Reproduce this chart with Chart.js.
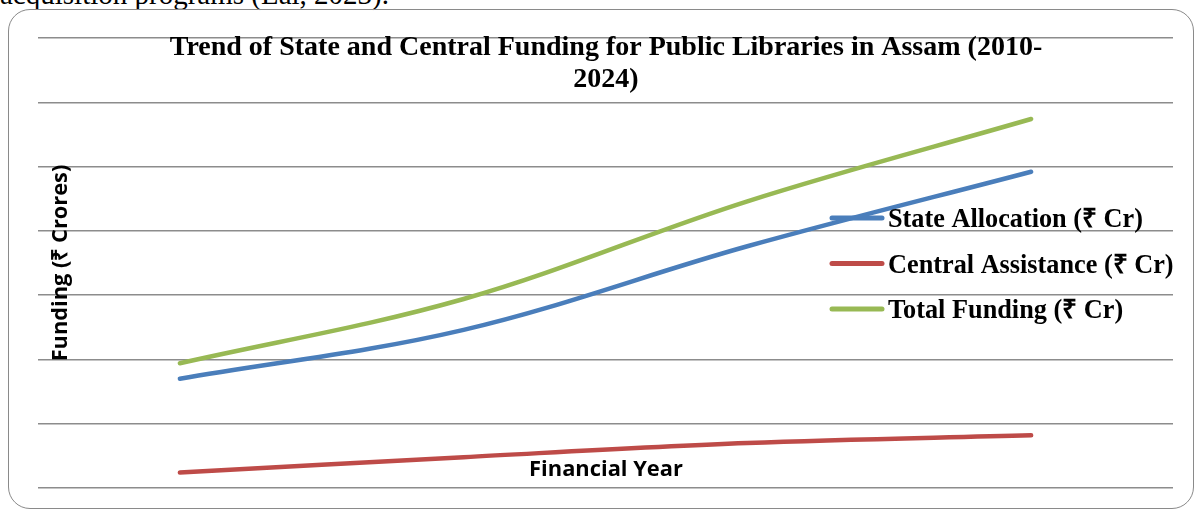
<!DOCTYPE html>
<html>
<head>
<meta charset="utf-8">
<script src="https://cdn.jsdelivr.net/npm/chart.js@4.4.1/dist/chart.umd.min.js"></script>
<style>
  body { margin: 0; background: #fff; overflow: hidden; }
  #wrap { position: relative; width: 1195px; height: 510px; overflow: hidden; }
  #above { position: absolute; left: 0; top: -22px; font: 29px "Liberation Serif", serif; color: #000; white-space: nowrap; }
  #frame { position: absolute; left: 8px; top: 9px; width: 1186px; height: 500px; border: 1.5px solid #8a8a8a; border-radius: 22px; box-sizing: border-box; }
  #chart { position: absolute; left: 0; top: 0; }
</style>
</head>
<body>
<div id="wrap">
  <div id="above">acquisition programs (Lal, 2023).</div>
  <div id="frame"></div>
  <canvas id="chart" width="1195" height="510"></canvas>
</div>
<script>
const years = ['2010', '2015', '2020', '2024']
const stateAllocation = [85, 123, 188, 246]
const centralAssistance = [12, 24, 35, 41]
const totalFunding = [97, 147, 223, 287]
const yTicks = [0, 50, 100, 150, 200, 250, 300, 350]

const chartTitle = ['Trend of State and Central Funding for Public Libraries in Assam (2010-', '2024)']
const yTitle = 'Funding (₹ Crores)'
const xTitle = 'Financial Year'

// text that sits inside the plot area, the way the original chart has it
const overlayText = {
    id: 'overlayText',
    afterDraw(chart) {
        const ctx = chart.ctx
        const fit = (text, weightFamily, size, width) => {
            ctx.font = weightFamily.replace('SIZE', size + 'px')
            const w = ctx.measureText(text).width
            const s = size * width / w
            ctx.font = weightFamily.replace('SIZE', s + 'px')
        }
        ctx.save()
        ctx.fillStyle = '#000'
        ctx.textAlign = 'center'
        ctx.textBaseline = 'alphabetic'

        fit(chartTitle[0], 'bold SIZE "Liberation Serif", serif', 26, 873)
        ctx.fillText(chartTitle[0], 606, 55)
        ctx.fillText(chartTitle[1], 606, 87)

        fit(xTitle, 'bold SIZE "Open Sans", sans-serif', 20, 154)
        ctx.fillText(xTitle, 606, 476)

        ctx.save()
        ctx.translate(67, 263)
        ctx.rotate(-Math.PI / 2)
        fit(yTitle, 'bold SIZE "Open Sans", sans-serif', 18, 197)
        ctx.fillText(yTitle, 0, 0)
        ctx.restore()

        // legend
        ctx.textAlign = 'left'
        ctx.lineCap = 'round'
        fit(chart.data.datasets[0].label, 'bold SIZE "Liberation Serif", serif', 23, 255)
        chart.data.datasets.forEach((ds, i) => {
            const y = 218 + i * 45.5
            ctx.strokeStyle = ds.borderColor
            ctx.lineWidth = 5
            ctx.beginPath()
            ctx.moveTo(832, y)
            ctx.lineTo(882, y)
            ctx.stroke()
            ctx.fillText(ds.label, 888, y + 9)
        })
        ctx.restore()
    }
}

const ctxChart = document.querySelector('#chart').getContext('2d')
const chart = new Chart(ctxChart, {
    type: 'line',
    data: {
        labels: years,
        datasets: [
            {
                label: 'State Allocation (₹ Cr)',
                data: stateAllocation,
                borderColor: '#4a7ebb'
            },
            {
                label: 'Central Assistance (₹ Cr)',
                data: centralAssistance,
                borderColor: '#be4b48'
            },
            {
                label: 'Total Funding (₹ Cr)',
                data: totalFunding,
                borderColor: '#98b954'
            }
        ]
    },
    options: {
        responsive: false,
        animation: false,
        layout: { padding: { left: 38, right: 22, top: 38, bottom: 14 } },
        elements: {
            line: { borderWidth: 4.5, tension: 0.35, borderCapStyle: 'round', fill: false },
            point: { radius: 0 }
        },
        scales: {
            x: {
                offset: true,
                grid: { display: false },
                border: { display: false },
                ticks: { display: false }
            },
            y: {
                min: yTicks[0],
                max: yTicks[yTicks.length - 1],
                afterBuildTicks: axis => { axis.ticks = yTicks.map(v => ({ value: v })) },
                grid: { color: '#8c8c8c', lineWidth: 1.5, drawTicks: false },
                border: { display: false },
                ticks: { display: false }
            }
        },
        plugins: {
            legend: { display: false },
            tooltip: { enabled: false }
        }
    },
    plugins: [overlayText]
})
</script>
</body>
</html>
